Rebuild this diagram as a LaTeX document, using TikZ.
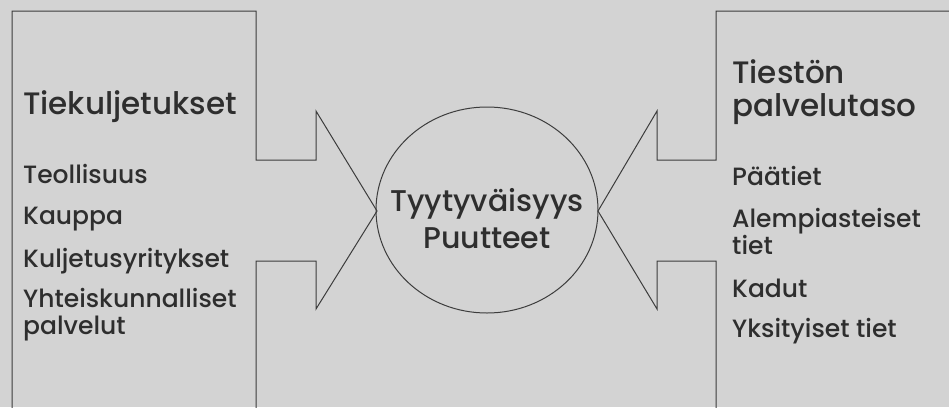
\documentclass[tikz,border=0pt]{standalone}
\usepackage{fontspec}
\setmainfont{Poppins}[UprightFont=* Medium]
\usetikzlibrary{shapes.geometric}
\definecolor{bg}{HTML}{D3D3D3}
\definecolor{ln}{HTML}{3C3C3C}
\definecolor{tx}{HTML}{2E2E2E}
\tikzset{
  outline/.style={draw=ln, line width=1pt, line join=miter},
  title/.style={anchor=base west, inner sep=0pt, text=tx, font=\fontsize{31}{33}\selectfont},
  item/.style={anchor=base west, inner sep=0pt, text=tx, font=\fontsize{25}{27}\selectfont},
  centre/.style={anchor=base, inner sep=0pt, text=tx, font=\fontsize{30}{33}\selectfont}
}
\begin{document}
\begin{tikzpicture}[x=1pt,y=-1pt]
\fill[bg] (0,0) rectangle (949,407);
\useasboundingbox (0,0) rectangle (949,407);
% left block arrow
\draw[outline] (12,420) -- (12,11) -- (256,11) -- (256,160) -- (316,160) -- (316,111)
  -- (377,211) -- (316,309) -- (316,261) -- (256,261) -- (256,420);
% right block arrow
\draw[outline] (960,11) -- (716,11) -- (716,160) -- (657,160) -- (657,111)
  -- (598,211) -- (657,309) -- (657,261) -- (716,261) -- (716,420);
% centre ellipse
\node[ellipse, draw=ln, line width=1pt, minimum width=222pt, minimum height=206pt, inner sep=0pt] (c) at (487,210) {};
\node[centre] (c1) at (487,211) {Tyytyväisyys};
\node[centre] (c2) at (487,248) {Puutteet};
% left texts
\node[title] (lt) at (23,114) {Tiekuljetukset};
\node[item] (l1) at (23,183) {Teollisuus};
\node[item] (l2) at (23,224) {Kauppa};
\node[item] (l3) at (23,267) {Kuljetusyritykset};
\node[item] (l4) at (23,307) {Yhteiskunnalliset};
\node[item] (l4b) at (23,334) {palvelut};
% right texts
\node[title] (rt) at (732,83) {Tiestön};
\node[title] (rtb) at (732,116) {palvelutaso};
\node[item] (r1) at (732,185) {Päätiet};
\node[item] (r2) at (732,227) {Alempiasteiset};
\node[item] (r2b) at (732,254) {tiet};
\node[item] (r3) at (732,297) {Kadut};
\node[item] (r4) at (732,337) {Yksityiset tiet};
\end{tikzpicture}
\end{document}
